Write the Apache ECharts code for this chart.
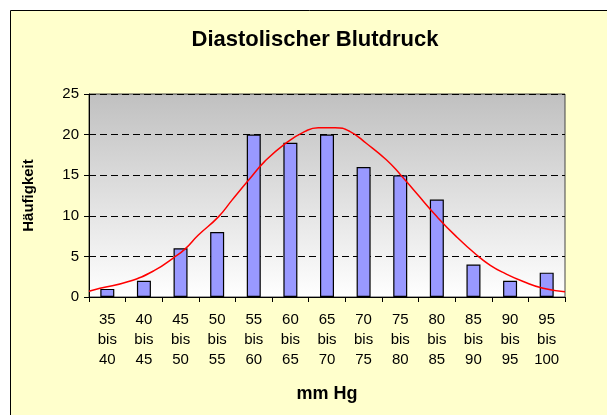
<!DOCTYPE html>
<html>
<head>
<meta charset="utf-8">
<title>Diastolischer Blutdruck</title>
<script src="https://cdn.jsdelivr.net/npm/echarts@6/dist/echarts.min.js"></script>
<style>
  html, body { margin: 0; padding: 0; background: #fff; }
  #chart { width: 607px; height: 415px; }
</style>
</head>
<body>
<div id="chart"></div>
<script>
// ============ Daten ============
const categories = ['35\nbis\n40', '40\nbis\n45', '45\nbis\n50', '50\nbis\n55', '55\nbis\n60', '60\nbis\n65', '65\nbis\n70',
  '70\nbis\n75', '75\nbis\n80', '80\nbis\n85', '85\nbis\n90', '90\nbis\n95', '95\nbis\n100'];
const counts = [1, 2, 6, 8, 20, 19, 20, 16, 15, 12, 4, 2, 3];

// Normalverteilungskurve (x in mm Hg)
const curveX = [35, 36.5, 40.4, 44.0, 46.5, 48.1, 49.9, 52.7, 54.5, 56.8, 59.0, 61.8, 64.5, 66.3,
  68.6, 70.6, 72.9, 75.6, 77.5, 79.7, 82.5, 85.2, 87.9, 89.8, 91.8, 94.3, 97.0, 100];
const curveY = [0.7, 1.07, 1.9, 3.3, 4.8, 5.9, 7.6, 9.9, 11.9, 14.4, 16.7, 18.9, 20.4, 20.85,
  20.85, 20.4, 18.9, 16.9, 15.1, 12.8, 9.9, 7.4, 5.2, 3.9, 2.9, 1.9, 1.07, 0.65];

const yTicks = { min: 0, max: 25, step: 5 };
const xRange = { min: 35, max: 100 };

const FONT = 'Arial, "Liberation Sans", sans-serif';

const chart = echarts.init(document.getElementById('chart'));

const option = {
  animation: false,
  backgroundColor: '#fff',
  graphic: [{
    type: 'rect',
    z: -10,
    silent: true,
    shape: { x: 10.5, y: 10.5, width: 700, height: 500 },
    style: { fill: '#FFFFCC', stroke: '#000', lineWidth: 1 }
  }],
  title: {
    text: 'Diastolischer Blutdruck',
    left: 310,
    top: 24,
    textAlign: 'center',
    textStyle: { fontFamily: FONT, fontSize: 22, fontWeight: 'bold', color: '#000' }
  },
  grid: {
    left: 89,
    top: 94,
    width: 476,
    height: 203,
    show: true,
    borderColor: '#444',
    borderWidth: 1,
    backgroundColor: {
      type: 'linear', x: 0, y: 0, x2: 0, y2: 1,
      colorStops: [{ offset: 0, color: '#C0C0C0' }, { offset: 1, color: '#FFFFFF' }]
    }
  },
  xAxis: [{
    type: 'category',
    data: categories,
    name: 'mm Hg',
    nameLocation: 'middle',
    nameGap: 88,
    nameTextStyle: { fontFamily: FONT, fontSize: 18, fontWeight: 'bold', color: '#000' },
    axisLine: { lineStyle: { color: '#000', width: 1 } },
    axisTick: { show: true, length: 5, lineStyle: { color: '#000' } },
    axisLabel: { interval: 0, margin: 13, fontFamily: FONT, fontSize: 15, lineHeight: 20, color: '#000' }
  }, {
    type: 'value',
    min: xRange.min,
    max: xRange.max,
    show: false
  }],
  yAxis: {
    type: 'value',
    min: yTicks.min,
    max: yTicks.max,
    interval: yTicks.step,
    name: 'Häufigkeit',
    nameLocation: 'middle',
    nameRotate: 90,
    nameGap: 53,
    nameTextStyle: { fontFamily: FONT, fontSize: 15, fontWeight: 'bold', color: '#000' },
    axisLine: { show: true, lineStyle: { color: '#000', width: 1 } },
    axisTick: { show: true, length: 5, lineStyle: { color: '#000' } },
    axisLabel: { margin: 10, fontFamily: FONT, fontSize: 15, color: '#000' },
    splitLine: { show: true, lineStyle: { color: '#000', width: 1, type: [7, 4] } }
  },
  series: [{
    type: 'bar',
    data: counts,
    barWidth: 14,
    itemStyle: { color: '#9999FF', borderColor: '#000', borderWidth: 1.2 }
  }, {
    type: 'line',
    xAxisIndex: 1,
    data: curveX.map((x, i) => [x, curveY[i]]),
    smooth: true,
    showSymbol: false,
    lineStyle: { color: '#FF0000', width: 1.5 },
    z: 3
  }]
};

chart.setOption(option);
window.addEventListener('resize', () => chart.resize());
</script>
</body>
</html>
